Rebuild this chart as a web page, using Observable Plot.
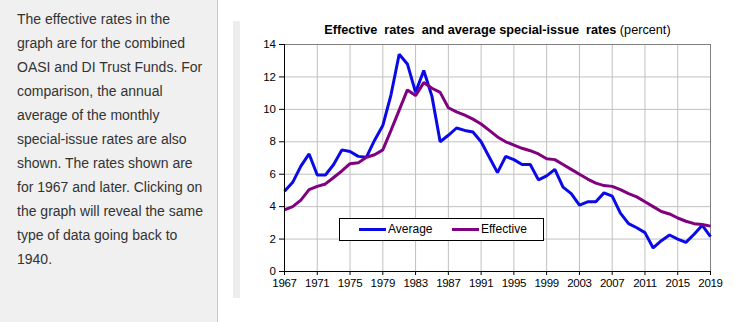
<!DOCTYPE html>
<html>
<head>
<meta charset="utf-8">
<script src="https://cdn.jsdelivr.net/npm/d3@7"></script>
<script src="https://cdn.jsdelivr.net/npm/@observablehq/plot@0.6"></script>
<style>
  html, body { margin: 0; padding: 0; background: #fff; }
  #page { position: relative; width: 735px; height: 322px; overflow: hidden; font-family: Arial, "Liberation Sans", sans-serif; }
  #side { position: absolute; left: 0; top: 0; width: 217px; height: 322px; background: #f0f0f0; border-right: 1px solid #c8c8c8; }
  #sidetext { position: absolute; left: 17px; top: 7px; font-size: 14px; line-height: 24px; color: #333; white-space: nowrap; }
  #bar { position: absolute; left: 233px; top: 21px; width: 7px; height: 277px; background: #eceeee; }
  #title { position: absolute; left: 230px; width: 535px; top: 23px; text-align: center; font-size: 12.7px; color: #000; white-space: nowrap; }
  #title b { font-weight: bold; }
  #chart { position: absolute; left: 230px; top: 0; }
  #legend { position: absolute; left: 339px; top: 218px; width: 203px; height: 21px; border: 1px solid #000; background: #fff; font-size: 12px; }
  .sw { position: absolute; top: 9px; height: 3px; width: 27px; }
  .lb { position: absolute; top: 3px; }
</style>
</head>
<body>
<div id="page">
  <div id="side"><div id="sidetext">The effective rates in the<br>graph are for the combined<br>OASI and DI Trust Funds. For<br>comparison, the annual<br>average of the monthly<br>special-issue rates are also<br>shown. The rates shown are<br>for 1967 and later. Clicking on<br>the graph will reveal the same<br>type of data going back to<br>1940.</div></div>
  <div id="bar"></div>
  <div id="chart"></div>
  <div id="title"><b>Effective&nbsp; rates&nbsp; and average special-issue&nbsp; rates</b> (percent)</div>
  <div id="legend">
    <div class="sw" style="left:19px;background:#0a0ae6"></div><div class="lb" style="left:48px">Average</div>
    <div class="sw" style="left:112px;background:#800080"></div><div class="lb" style="left:141px">Effective</div>
  </div>
</div>
<script>
const years = [1967,1968,1969,1970,1971,1972,1973,1974,1975,1976,1977,1978,1979,1980,1981,1982,1983,1984,1985,1986,1987,1988,1989,1990,1991,1992,1993,1994,1995,1996,1997,1998,1999,2000,2001,2002,2003,2004,2005,2006,2007,2008,2009,2010,2011,2012,2013,2014,2015,2016,2017,2018,2019];
const average = [4.95,5.5,6.5,7.25,5.95,5.95,6.6,7.5,7.4,7.1,7.05,8.1,9.0,10.9,13.4,12.8,11.05,12.4,10.8,8.0,8.4,8.85,8.7,8.6,8.0,7.05,6.1,7.1,6.9,6.6,6.6,5.65,5.9,6.3,5.2,4.8,4.1,4.3,4.3,4.85,4.65,3.6,2.95,2.7,2.4,1.45,1.9,2.25,2.0,1.8,2.3,2.85,2.15];
const effective = [3.8,4.0,4.4,5.05,5.25,5.4,5.8,6.2,6.65,6.7,7.05,7.2,7.5,8.7,9.95,11.2,10.85,11.65,11.3,11.05,10.1,9.85,9.65,9.4,9.1,8.7,8.3,8.0,7.8,7.6,7.45,7.25,6.95,6.9,6.6,6.3,6.0,5.7,5.45,5.3,5.25,5.05,4.8,4.6,4.3,4.0,3.7,3.55,3.3,3.1,2.95,2.9,2.8];
const xTicks = [1967,1971,1975,1979,1983,1987,1991,1995,1999,2003,2007,2011,2015,2019];
const yTicks = [0,2,4,6,8,10,12,14];
const seriesNames = ["Average","Effective"];
const seriesColors = ["#0a0ae6","#800080"];

const rows = [];
years.forEach((y,i) => {
  rows.push({year: y, value: average[i], series: seriesNames[0]});
  rows.push({year: y, value: effective[i], series: seriesNames[1]});
});

const chart = Plot.plot({
  width: 505,
  height: 322,
  marginLeft: 54,
  marginRight: 25,
  marginTop: 44,
  marginBottom: 51,
  style: {fontFamily: "Arial, 'Liberation Sans', sans-serif", fontSize: "11.5px", letterSpacing: "-0.3px", color: "#000", background: "transparent"},
  x: {domain: [1967, 2019]},
  y: {domain: [0, 14]},
  color: {domain: seriesNames, range: seriesColors},
  marks: [
    Plot.gridX(xTicks, {stroke: "#c0c0c0", strokeOpacity: 1}),
    Plot.gridY(yTicks, {stroke: "#c0c0c0", strokeOpacity: 1}),
    Plot.ruleY([14], {stroke: "#808080"}),
    Plot.ruleX([2019], {stroke: "#808080"}),
    Plot.line(rows, {x: "year", y: "value", z: "series", stroke: "series", strokeWidth: 3, strokeLinejoin: "miter", strokeLinecap: "butt"}),
    Plot.axisX(xTicks, {tickFormat: "d", tickSize: 4, tickPadding: 3, label: null, stroke: "#000", fill: "#000"}),
    Plot.axisY(yTicks, {tickSize: 5, tickPadding: 4, label: null, stroke: "#000", fill: "#000"}),
    Plot.ruleX([1967], {stroke: "#000"}),
    Plot.ruleY([0], {stroke: "#000"})
  ]
});
document.getElementById("chart").appendChild(chart);
</script>
</body>
</html>
